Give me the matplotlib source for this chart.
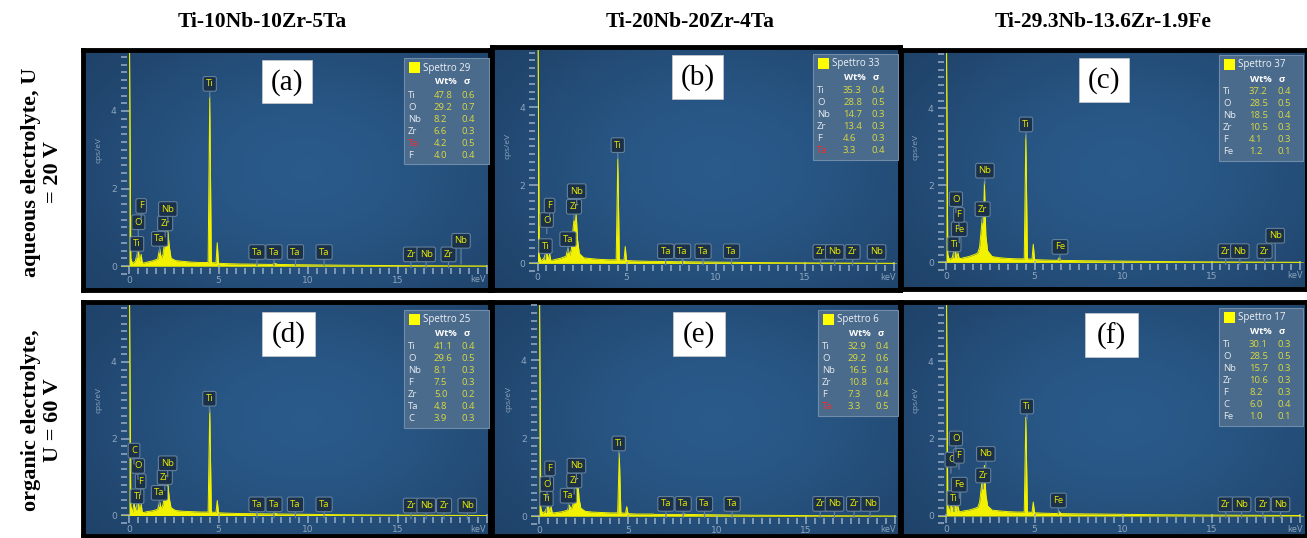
import numpy as np
import matplotlib
matplotlib.use('Agg')
import matplotlib.pyplot as plt
from matplotlib.patches import Rectangle
from matplotlib.colors import LinearSegmentedColormap
from matplotlib.ticker import MultipleLocator

W, H = 1307, 538

# ── data ────────────────────────────────────────────────────────
col_titles = ["Ti-10Nb-10Zr-5Ta", "Ti-20Nb-20Zr-4Ta", "Ti-29.3Nb-13.6Zr-1.9Fe"]
row_titles = ["aqueous electrolyte, U\n= 20 V", "organic electrolyte,\nU = 60 V"]

energy = [0.0, 0.03, 0.1, 0.2, 0.28, 0.35, 0.45, 0.48, 0.52, 0.58, 0.62, 0.68, 0.74, 0.85,
          1.0, 1.3, 1.6, 1.71, 1.8, 1.9, 2.0, 2.05, 2.12, 2.17, 2.25, 2.35, 2.6, 3.0, 3.5,
          4.0, 4.42, 4.51, 4.6, 4.86, 4.93, 5.0, 5.5, 6.3, 6.4, 6.5, 8.0, 8.15, 8.3, 10.0,
          12.0, 15.0, 20.0]
counts_a = [5.6, 5.6, 0.2, 0.06, 0.1, 0.12, 0.3, 0.2, 0.45, 0.15, 0.15, 0.3, 0.08, 0.08,
            0.1, 0.13, 0.18, 0.45, 0.2, 0.3, 0.65, 0.8, 0.7, 0.9, 0.5, 0.2, 0.14, 0.12, 0.1,
            0.09, 0.09, 4.37, 0.09, 0.08, 0.6, 0.07, 0.06, 0.05, 0.05, 0.05, 0.04, 0.07, 0.04,
            0.03, 0.02, 0.01, 0.0]
counts_b = [5.6, 5.6, 0.2, 0.06, 0.1, 0.12, 0.25, 0.15, 0.3, 0.12, 0.12, 0.25, 0.08, 0.08,
            0.1, 0.13, 0.18, 0.39, 0.2, 0.35, 0.9, 1.1, 1.0, 1.28, 0.6, 0.25, 0.14, 0.12, 0.1,
            0.09, 0.09, 2.69, 0.09, 0.08, 0.43, 0.07, 0.06, 0.05, 0.05, 0.05, 0.04, 0.06, 0.04,
            0.03, 0.02, 0.01, 0.0]
counts_c = [5.6, 5.6, 0.2, 0.06, 0.1, 0.12, 0.3, 0.2, 0.4, 0.15, 0.12, 0.25, 0.1, 0.1,
            0.12, 0.15, 0.2, 0.22, 0.25, 0.4, 0.9, 1.15, 1.1, 2.09, 0.7, 0.3, 0.15, 0.12, 0.1,
            0.09, 0.09, 3.3, 0.09, 0.08, 0.47, 0.07, 0.06, 0.05, 0.12, 0.05, 0.04, 0.04, 0.04,
            0.03, 0.02, 0.01, 0.0]
counts_d = [5.6, 5.6, 0.25, 0.08, 0.35, 0.12, 0.3, 0.2, 0.4, 0.15, 0.12, 0.3, 0.08, 0.08,
            0.1, 0.12, 0.16, 0.36, 0.18, 0.28, 0.6, 0.7, 0.65, 0.82, 0.45, 0.2, 0.13, 0.11, 0.1,
            0.09, 0.09, 2.78, 0.09, 0.08, 0.39, 0.07, 0.06, 0.05, 0.05, 0.05, 0.04, 0.06, 0.04,
            0.03, 0.02, 0.01, 0.0]
counts_e = [5.6, 5.6, 0.2, 0.06, 0.1, 0.12, 0.25, 0.15, 0.3, 0.12, 0.12, 0.25, 0.08, 0.08,
            0.09, 0.11, 0.15, 0.28, 0.16, 0.28, 0.7, 0.85, 0.8, 0.97, 0.45, 0.2, 0.12, 0.1, 0.09,
            0.08, 0.08, 1.61, 0.08, 0.07, 0.24, 0.06, 0.05, 0.05, 0.05, 0.04, 0.04, 0.05, 0.04,
            0.03, 0.02, 0.01, 0.0]
counts_f = [5.6, 5.6, 0.25, 0.08, 0.4, 0.12, 0.3, 0.2, 0.5, 0.15, 0.12, 0.25, 0.1, 0.1,
            0.12, 0.14, 0.18, 0.2, 0.22, 0.35, 0.75, 0.95, 0.9, 1.3, 0.55, 0.25, 0.14, 0.12, 0.1,
            0.09, 0.09, 2.55, 0.09, 0.08, 0.35, 0.07, 0.06, 0.05, 0.1, 0.05, 0.04, 0.04, 0.04,
            0.03, 0.02, 0.01, 0.0]

# peak markers: (element, keV, label height[, stem tip])
peaks_a = [("Ti", 0.45, 0.57), ("O", 0.52, 1.13), ("F", 0.68, 1.55), ("Ta", 1.71, 0.7),
           ("Zr", 2.02, 1.1), ("Nb", 2.17, 1.47), ("Ti", 4.51, 4.7), ("Ta", 7.15, 0.36),
           ("Ta", 8.1, 0.36), ("Ta", 9.3, 0.36), ("Ta", 10.9, 0.36), ("Zr", 15.75, 0.3),
           ("Nb", 16.6, 0.3), ("Zr", 17.85, 0.3), ("Nb", 18.55, 0.65, 0.05)]
peaks_b = [("Ti", 0.45, 0.44), ("O", 0.52, 1.11), ("F", 0.68, 1.48), ("Ta", 1.71, 0.62),
           ("Zr", 2.05, 1.45), ("Nb", 2.2, 1.85), ("Ti", 4.51, 3.03), ("Ta", 7.2, 0.31),
           ("Ta", 8.15, 0.31), ("Ta", 9.3, 0.31), ("Ta", 10.9, 0.31), ("Zr", 15.9, 0.29),
           ("Nb", 16.7, 0.29), ("Zr", 17.7, 0.29), ("Nb", 19.05, 0.29)]
peaks_c = [("Ti", 0.47, 0.47), ("Fe", 0.75, 0.86), ("F", 0.73, 1.23), ("O", 0.56, 1.64),
           ("Zr", 2.07, 1.38), ("Nb", 2.2, 2.38), ("Ti", 4.52, 3.58), ("Fe", 6.44, 0.4),
           ("Zr", 15.8, 0.29), ("Nb", 16.6, 0.29), ("Zr", 18.0, 0.29), ("Nb", 18.6, 0.69, 0.05)]
peaks_d = [("Ti", 0.46, 0.5), ("F", 0.65, 0.89), ("O", 0.5, 1.29), ("C", 0.28, 1.69),
           ("Ta", 1.7, 0.59), ("Zr", 2.0, 1.0), ("Nb", 2.16, 1.36), ("Ti", 4.49, 3.04),
           ("Ta", 7.15, 0.29), ("Ta", 8.1, 0.29), ("Ta", 9.3, 0.29), ("Ta", 10.9, 0.29),
           ("Zr", 15.75, 0.26), ("Nb", 16.6, 0.26), ("Zr", 17.6, 0.26), ("Nb", 18.9, 0.26)]
peaks_e = [("Ti", 0.42, 0.44), ("O", 0.45, 0.82), ("F", 0.62, 1.22), ("Ta", 1.65, 0.52),
           ("Zr", 1.98, 0.91), ("Nb", 2.1, 1.29), ("Ti", 4.48, 1.86), ("Ta", 7.13, 0.31),
           ("Ta", 8.1, 0.31), ("Ta", 9.3, 0.31), ("Ta", 10.85, 0.31), ("Zr", 15.8, 0.31),
           ("Nb", 16.6, 0.31), ("Zr", 17.7, 0.31), ("Nb", 18.6, 0.31)]
peaks_f = [("Ti", 0.45, 0.45), ("Fe", 0.75, 0.8), ("C", 0.28, 1.45), ("F", 0.73, 1.55),
           ("O", 0.56, 2.0), ("Zr", 2.1, 1.04), ("Nb", 2.25, 1.6), ("Ti", 4.57, 2.83),
           ("Fe", 6.35, 0.39), ("Zr", 15.8, 0.29), ("Nb", 16.7, 0.29), ("Zr", 17.9, 0.29),
           ("Nb", 18.9, 0.29)]

# quantification tables
spectra = ["Spettro 29", "Spettro 33", "Spettro 37", "Spettro 25", "Spettro 6", "Spettro 17"]
elems_a, wt_a, sig_a = ["Ti", "O", "Nb", "Zr", "Ta", "F"], [47.8, 29.2, 8.2, 6.6, 4.2, 4.0], [0.6, 0.7, 0.4, 0.3, 0.5, 0.4]
elems_b, wt_b, sig_b = ["Ti", "O", "Nb", "Zr", "F", "Ta"], [35.3, 28.8, 14.7, 13.4, 4.6, 3.3], [0.4, 0.5, 0.3, 0.3, 0.3, 0.4]
elems_c, wt_c, sig_c = ["Ti", "O", "Nb", "Zr", "F", "Fe"], [37.2, 28.5, 18.5, 10.5, 4.1, 1.2], [0.4, 0.5, 0.4, 0.3, 0.3, 0.1]
elems_d, wt_d, sig_d = ["Ti", "O", "Nb", "F", "Zr", "Ta", "C"], [41.1, 29.6, 8.1, 7.5, 5.0, 4.8, 3.9], [0.4, 0.5, 0.3, 0.3, 0.2, 0.4, 0.3]
elems_e, wt_e, sig_e = ["Ti", "O", "Nb", "Zr", "F", "Ta"], [32.9, 29.2, 16.5, 10.8, 7.3, 3.3], [0.4, 0.6, 0.4, 0.4, 0.4, 0.5]
elems_f, wt_f, sig_f = ["Ti", "O", "Nb", "Zr", "F", "C", "Fe"], [30.1, 28.5, 15.7, 10.6, 8.2, 6.0, 1.0], [0.3, 0.5, 0.3, 0.3, 0.3, 0.4, 0.1]
red_rows = [True, True, False, False, True, False]   # "Ta" written in red

letters = ["(a)", "(b)", "(c)", "(d)", "(e)", "(f)"]

# ── layout (pixels) ─────────────────────────────────────────────
# outer frame, keV origin px, px per keV, zero line px, px per cps/eV, table box, letter box
layout = [
    ((83, 50, 490, 290), 129, 17.9, 266.0, 38.75, (404, 58, 489), (262, 60, 312, 103)),
    ((492, 47, 900, 290), 537.5, 17.8, 263.3, 39.0, (813, 54, 898), (672, 55, 723, 99)),
    ((901, 50, 1307, 289), 946, 17.7, 262.3, 38.5, (1219, 55, 1303), (1079, 58, 1129, 102)),
    ((83, 302, 490, 536), 129, 17.9, 515.5, 38.4, (404, 310, 489), (262, 312, 315, 356)),
    ((492, 302, 900, 536), 539, 17.8, 516.0, 39.0, (818, 310, 898), (673, 312, 725, 356)),
    ((901, 302, 1307, 536), 946, 17.7, 515.5, 38.5, (1219, 308, 1303), (1085, 313, 1138, 357)),
]

all_counts = [counts_a, counts_b, counts_c, counts_d, counts_e, counts_f]
all_peaks = [peaks_a, peaks_b, peaks_c, peaks_d, peaks_e, peaks_f]
all_tables = [(elems_a, wt_a, sig_a), (elems_b, wt_b, sig_b), (elems_c, wt_c, sig_c),
              (elems_d, wt_d, sig_d), (elems_e, wt_e, sig_e), (elems_f, wt_f, sig_f)]

YELLOW = '#f2f200'
TICK = '#8ea6bf'
serif = ['Liberation Serif', 'DejaVu Serif']
sans = ['Open Sans', 'DejaVu Sans']
YLOW = -0.2

bg_cmap = LinearSegmentedColormap.from_list('bg', ['#1a3759', '#2a5a8a'])
yy, xx = np.mgrid[0:1:60j, 0:1:100j]
grad = np.exp(-(((xx - 0.55) / 0.65) ** 2 + ((yy - 0.5) / 0.75) ** 2))


def frac(l, t, r, b):
    return [l / W, 1 - b / H, (r - l) / W, (b - t) / H]


fig = plt.figure(figsize=(W / 100, H / 100), dpi=100)
fig.patch.set_facecolor('white')

for i, (outer, x0, sx, y0, sy, tab, lbox) in enumerate(layout):
    l, t, r, b = outer

    # background frame
    bg = fig.add_axes(frac(l, t, r, b))
    bg.imshow(grad, extent=(0, 1, 0, 1), aspect='auto', cmap=bg_cmap, vmin=0, vmax=1)
    bg.set_xticks([])
    bg.set_yticks([])
    for s in bg.spines.values():
        s.set_color('black')
        s.set_linewidth(3.5)

    # spectrum axes
    il, ir = x0 - 0.45 * sx, r - 3
    it, ib = t + 3, y0 - YLOW * sy
    ax = fig.add_axes(frac(il, it, ir, ib))
    ax.set_facecolor('none')
    xmax = (ir - x0) / sx
    ax.set_xlim(-0.45, xmax)
    ax.set_ylim(YLOW, (y0 - it) / sy)
    ax.fill_between(energy, all_counts[i], 0, color=YELLOW, lw=0)
    ax.plot(energy, all_counts[i], color=YELLOW, lw=0.7)
    ax.axhline(0, color=YELLOW, lw=0.6, alpha=0.6)
    for s in ax.spines.values():
        s.set_visible(False)
    ax.set_xticks([0, 5, 10, 15, 20])
    ax.set_xticklabels(['0', '5', '10', '15', ''])
    ax.set_yticks([0, 2, 4])
    ax.xaxis.set_minor_locator(MultipleLocator(0.5))
    ax.yaxis.set_minor_locator(MultipleLocator(0.2))
    ax.tick_params(which='both', direction='in', color=TICK, width=1.2,
                   labelcolor=TICK, labelsize=6.6, pad=3)
    ax.tick_params(axis='x', pad=1.5)
    ax.tick_params(which='major', length=6.5)
    ax.tick_params(which='minor', length=4)
    ax.text(xmax - 0.05, YLOW - 1.5 / sy, 'keV', ha='right', va='top',
            color=TICK, fontsize=6.6, family=sans)
    ax.text(-30 / sx, 3.0, 'cps/eV', rotation=90, ha='center', va='center',
            color=TICK, fontsize=6, family=sans, clip_on=False)

    # peak markers
    for p in all_peaks[i]:
        tip = p[3] if len(p) > 3 else p[2] - 0.35
        ax.annotate(p[0], xy=(p[1], tip), xytext=(p[1], p[2]),
                    ha='center', va='center', color='#e8e800', fontsize=6.8,
                    family=sans,
                    bbox=dict(boxstyle='round,pad=0.3,rounding_size=0.2',
                              fc='#1b3049', ec='#62809c', lw=0.8),
                    arrowprops=dict(arrowstyle='-', color='#62809c', lw=0.9,
                                    shrinkA=0, shrinkB=0))

    # overlay in pixel coordinates for the table and letter
    ov = fig.add_axes(frac(l, t, r, b))
    ov.set_xlim(l, r)
    ov.set_ylim(b, t)
    ov.axis('off')
    ov.patch.set_alpha(0)

    elems, wt, sig = all_tables[i]
    bx, by, bxr = tab
    bh = 34 + len(elems) * 12
    ov.add_patch(Rectangle((bx, by), bxr - bx, bh, fc='#4b6b8d', ec='#6f8cab', lw=0.8))
    ov.add_patch(Rectangle((bx + 5, by + 4), 11, 11, fc='#ffff00', ec='none'))
    ov.text(bx + 19, by + 10, spectra[i], color='#eef2f7', fontsize=7,
            family=sans, va='center')
    ov.text(bx + 42, by + 24, 'Wt%', color='#ffffff', fontsize=6.8, family=sans,
            fontweight='bold', va='center', ha='center')
    ov.text(bx + 63, by + 24, 'σ', color='#ffffff', fontsize=6.8, family=sans,
            fontweight='bold', va='center', ha='center')
    for k, (el, w, s) in enumerate(zip(elems, wt, sig)):
        yk = by + 37 + k * 12
        ecol = '#ff2a2a' if (el == 'Ta' and red_rows[i]) else '#e3e9f0'
        ov.text(bx + 4, yk, el, color=ecol, fontsize=6.8, family=sans, va='center')
        ov.text(bx + 30, yk, f"{w:.1f}", color='#dada3c', fontsize=6.8, family=sans, va='center')
        ov.text(bx + 58, yk, f"{s:.1f}", color='#dada3c', fontsize=6.8, family=sans, va='center')

    # panel letter
    lx, ly, lxr, lyb = lbox
    ov.add_patch(Rectangle((lx, ly), lxr - lx, lyb - ly, fc='white', ec='#cccccc', lw=0.5))
    ov.text((lx + lxr) / 2, (ly + lyb) / 2 + 1, letters[i], color='black', fontsize=21,
            family=serif, ha='center', va='center')

# column and row titles
for cx, txt in zip([262, 690, 1103], col_titles):
    fig.text(cx / W, 1 - 22 / H, txt, ha='center', va='center', fontsize=15.5,
             fontweight='bold', family=serif)
for cy, txt in zip([172, 420], row_titles):
    fig.text(42 / W, 1 - cy / H, txt, ha='center', va='center', ma='center',
             rotation=90, fontsize=16, fontweight='bold', family=serif, linespacing=1.15)

fig.savefig('out.png', dpi=100)
